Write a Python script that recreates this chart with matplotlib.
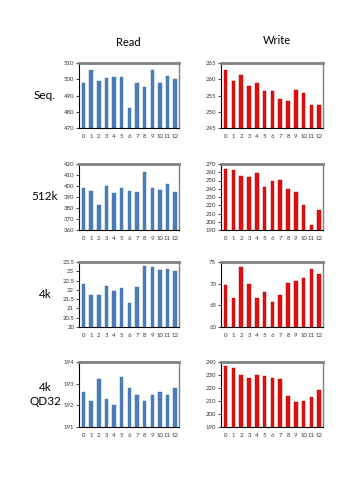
import matplotlib

matplotlib.use("Agg")  # headless
import matplotlib.pyplot as plt

plt.rcParams["font.family"] = ["Lato", "DejaVu Sans"]

runs = list(range(13))
row_labels = ["Seq.", "512k", "4k", "4k\nQD32"]
col_titles = ["Read", "Write"]

read_seq = [498, 505.5, 499, 501, 501.5, 501.5, 482.5, 497.5, 495.5, 506, 497.5, 502, 500]
write_seq = [263, 259.5, 261.2, 258, 259, 256.5, 256.3, 254, 253.3, 256.7, 255.8, 252, 252.1]
read_512k = [398, 395.5, 382.5, 400, 393.5, 398.5, 395.5, 394.5, 413, 398.5, 396.5, 401.5, 395]
write_512k = [264, 263, 255, 254.5, 258.5, 242.5, 250, 250.5, 240, 236.5, 220.5, 195.5, 214.5]
read_4k = [22.3, 21.7, 21.75, 22.2, 21.95, 22.1, 21.3, 22.15, 23.3, 23.25, 23.05, 23.1, 23.0]
write_4k = [69.6, 66.7, 73.8, 69.9, 66.7, 68.0, 65.7, 67.3, 70.1, 70.7, 71.4, 73.5, 72.2]
read_qd32 = [192.6, 192.2, 193.2, 192.3, 192.0, 193.3, 192.8, 192.5, 192.2, 192.5, 192.6, 192.5, 192.8]
write_qd32 = [237, 235.5, 230, 227.5, 230, 229.5, 227.5, 227, 214, 209, 210, 213, 218.5]

series = [
    (read_seq, write_seq),
    (read_512k, write_512k),
    (read_4k, write_4k),
    (read_qd32, write_qd32),
]
ylims = [
    ((470, 510, 10), (245, 265, 5)),
    ((360, 420, 10), (190, 270, 10)),
    ((20, 23.5, 0.5), (60, 75, 5)),
    ((191, 194, 1), (190, 240, 10)),
]

W, H = 360, 480
rows_px = [(63, 128), (164, 230), (262, 327), (362, 427)]
cols_px = [(79, 179), (221, 323)]
colors = ["#4A7EBB", "#E01010"]
edges = ["#3F6FA8", "#B00000"]

fig = plt.figure(figsize=(3.6, 4.8), dpi=100)

for r, (top, bot) in enumerate(rows_px):
    for c, (left, right) in enumerate(cols_px):
        ax = fig.add_axes([left / W, 1 - bot / H, (right - left) / W, (bot - top) / H])
        vals = series[r][c]
        lo, hi, step = ylims[r][c]
        ax.bar(runs, vals, width=0.45, color=colors[c], edgecolor=edges[c], linewidth=0.3)
        ax.set_xlim(-0.6, 12.5)
        ax.set_ylim(lo, hi)
        n = int(round((hi - lo) / step))
        yt = [lo + i * step for i in range(n + 1)]
        ax.set_yticks(yt)
        ax.set_yticklabels([f"{v:g}" for v in yt])
        ax.set_xticks(runs)
        ax.tick_params(axis="both", labelsize=4.3, colors="#333333", pad=1.5)
        ax.tick_params(axis="x", length=0, pad=4)
        ax.tick_params(axis="y", length=2, width=0.5, color="black")
        ax.spines["top"].set_color("#808080")
        ax.spines["top"].set_linewidth(2)
        ax.spines["right"].set_color("#808080")
        ax.spines["right"].set_linewidth(1)
        ax.spines["left"].set_linewidth(0.8)
        ax.spines["bottom"].set_linewidth(0.8)
    fig.text(45 / W, 1 - ((top + bot) / 2) / H, row_labels[r], ha="center", va="center",
             fontsize=8.5, linespacing=1.3)

fig.text(128 / W, 1 - 42 / H, col_titles[0], ha="center", va="center", fontsize=8)
fig.text(277 / W, 1 - 40 / H, col_titles[1], ha="center", va="center", fontsize=8)

fig.savefig("out.png", dpi=100)
plt.close(fig)
